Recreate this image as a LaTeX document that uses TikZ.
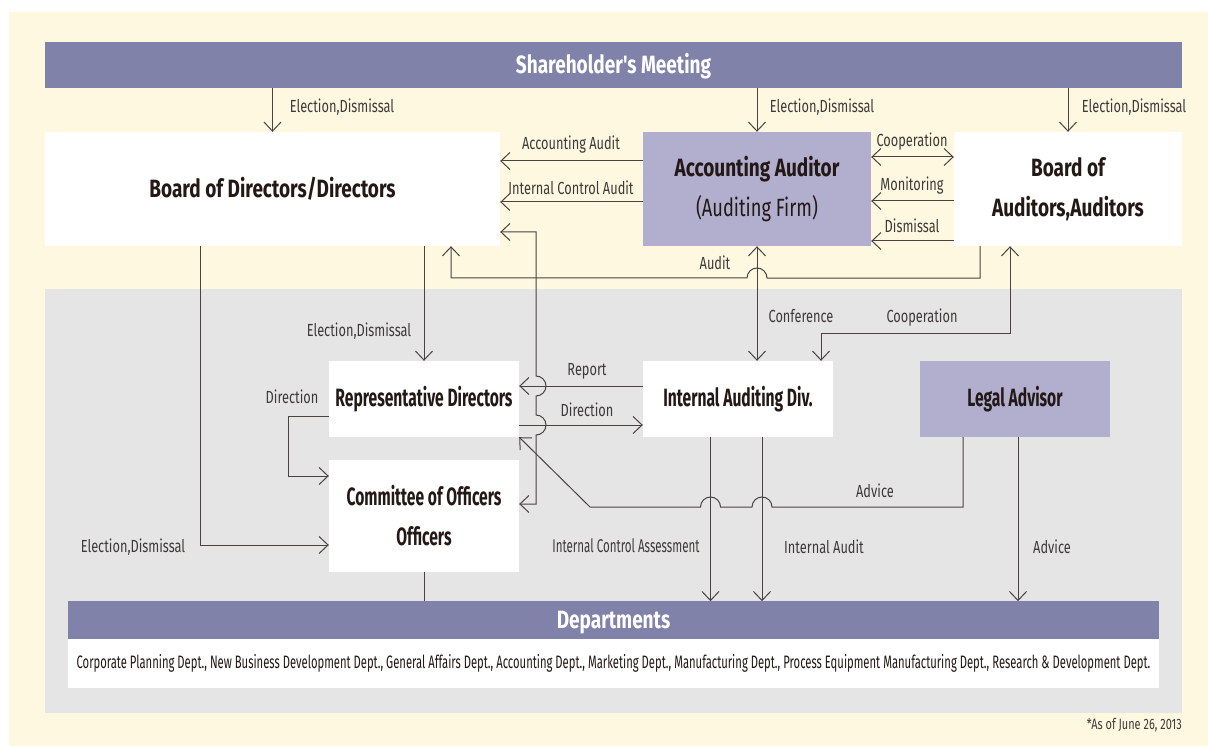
\documentclass[tikz,border=0pt]{standalone}
\usepackage{fontspec}
\setmainfont{Fira Sans}[Ligatures=TeXOff, FakeStretch=0.73, BoldFeatures={FakeStretch=0.76}]
\newfontfamily\condfont{Fira Sans}[FakeStretch=0.625]
\usetikzlibrary{positioning,arrows.meta}
\definecolor{creambg}{HTML}{FEF8E0}
\definecolor{greybg}{HTML}{E5E5E5}
\definecolor{barblue}{HTML}{8082A9}
\definecolor{lavender}{HTML}{B1AFCD}
\definecolor{linegrey}{HTML}{4A4241}
\definecolor{inkdark}{HTML}{231815}
\definecolor{labelgrey}{HTML}{3E3A39}
\tikzset{
  flowarrow/.style={->, draw=linegrey, line width=1pt},
  bothway/.style={<->, draw=linegrey, line width=1pt},
  plainline/.style={draw=linegrey, line width=1pt},
  topbar/.style={fill=barblue, text=white, inner sep=0pt, text height=17pt, text depth=0pt, font=\fontsize{25}{30}\selectfont\bfseries},
  entity/.style={fill=white, inner sep=0pt, align=center, text=inkdark, font=\fontsize{25}{40}\selectfont\bfseries},
  entity2/.style={entity, fill=lavender},
  lowbox/.style={entity, font=\condfont\fontsize{25}{40}\selectfont\bfseries},
  lowbox2/.style={lowbox, fill=lavender},
  relabel/.style={inner sep=0pt, text=labelgrey, font=\fontsize{17.5}{20}\selectfont}
}

\begin{document}
\begin{tikzpicture}[x=1pt, y=-1pt, >={Straight Barb[length=9pt,width=17pt]}]
  \useasboundingbox (0,0) rectangle (1208,746);
  % background bands
  \fill[creambg] (9,12) rectangle (1208,746);
  \fill[greybg] (45,289) rectangle (1182,713);

  % boxes
  \node[topbar, minimum width=1137pt, minimum height=46pt] (meeting) at (613.5,65) {Shareholder's Meeting};
  \node[entity, minimum width=455pt, minimum height=114pt] (board) at (272.5,189) {Board of Directors/Directors};
  \node[entity2, minimum width=228pt, minimum height=114pt] (acct) at (757,189) {Accounting Auditor\\\mdseries(Auditing Firm)};
  \node[entity, minimum width=228pt, minimum height=114pt] (auditors) at (1068,189) {Board of\\Auditors,Auditors};
  \node[lowbox, minimum width=190pt, minimum height=76pt] (repdir) at (424,399) {Representative Directors};
  \node[lowbox, minimum width=190pt, minimum height=112pt] (officers) at (424,516) {Committee of Officers\\Officers};
  \node[lowbox, minimum width=190pt, minimum height=76pt] (internal) at (738,399) {Internal Auditing Div.};
  \node[lowbox2, minimum width=190pt, minimum height=76pt] (legal) at (1015,399) {Legal Advisor};
  \node[topbar, minimum width=1091pt, minimum height=38pt] (depts) at (613.5,620) {Departments};
  \node[entity, minimum width=1091pt, minimum height=49pt, font=\condfont\fontsize{18}{20}\selectfont] (deptlist) at (613.5,663.5)
    {Corporate Planning Dept., New Business Development Dept., General Affairs Dept., Accounting Dept., Marketing Dept., Manufacturing Dept., Process Equipment Manufacturing Dept., Research \& Development Dept.};

  % from the meeting
  \draw[flowarrow] (board.north |- meeting.south) -- (board.north);
  \draw[flowarrow] (acct.north |- meeting.south) -- (acct.north);
  \draw[flowarrow] (auditors.north |- meeting.south) -- (auditors.north);
  \node[relabel] (elect1) at (342,107) {Election,Dismissal};
  \node[relabel] (elect2) at (822,107) {Election,Dismissal};
  \node[relabel] (elect3) at (1134,107) {Election,Dismissal};

  % auditor links
  \draw[flowarrow] ([yshift=28pt]acct.west) -- ([yshift=28pt]board.east);
  \draw[flowarrow] ([yshift=-13pt]acct.west) -- ([yshift=-13pt]board.east);
  \draw[bothway] ([yshift=32pt]acct.east) -- ([yshift=32pt]auditors.west);
  \draw[flowarrow] ([yshift=-12pt]auditors.west) -- ([yshift=-12pt]acct.east);
  \draw[flowarrow] ([yshift=-52pt]auditors.west) -- ([yshift=-52pt]acct.east);
  \node[relabel] (accaud) at (571,145) {Accounting Audit};
  \node[relabel] (ictrl) at (571,188) {Internal Control Audit};
  \node[relabel] (coop1) at (912,142) {Cooperation};
  \node[relabel] (monit) at (912,186) {Monitoring};
  \node[relabel] (dismis) at (912,226) {Dismissal};

  % audit line with hop
  \draw[flowarrow] ([xshift=-88pt]auditors.south) -- ++(0,32) -- (767,278)
    arc[start angle=0, end angle=180, radius=10pt] -| ([xshift=178.5pt]board.south);
  \node[relabel] (audit) at (715,263) {Audit};

  % conference and cooperation
  \draw[bothway] (acct.south) -- (acct.south |- internal.north);
  \draw[bothway] ([xshift=-58pt]auditors.south) -- ++(0,87) -| ([xshift=83pt]internal.north);
  \node[relabel] (confer) at (801,316) {Conference};
  \node[relabel] (coop2) at (922,318) {Cooperation};

  % directors
  \draw[flowarrow] (repdir.north |- board.south) -- (repdir.north);
  \node[relabel] (elect4) at (359,331) {Election,Dismissal};
  \draw[flowarrow] ([yshift=-17pt]repdir.west) -- ++(-40,0) |- ([yshift=40pt]officers.west);
  \node[relabel] (direct1) at (292,397) {Direction};
  \draw[flowarrow] ([xshift=-72.5pt]board.south) |- ([yshift=-29pt]officers.west);
  \node[relabel] (elect5) at (133,547) {Election,Dismissal};
  \draw[plainline] (officers.south) -- (officers.south |- depts.north);

  % rail from officers to board with hops
  \draw[bothway] ([yshift=12pt]officers.east) -| (536,435)
    arc[start angle=-90, end angle=90, radius=10pt] -- (536,396)
    arc[start angle=-90, end angle=90, radius=10pt] |- ([yshift=-43pt]board.east);

  % internal auditing
  \draw[flowarrow] ([yshift=13pt]internal.west) -- ([yshift=13pt]repdir.east);
  \draw[flowarrow] ([yshift=-26pt]repdir.east) -- ([yshift=-26pt]internal.west);
  \node[relabel] (report) at (587,371) {Report};
  \node[relabel] (direct2) at (587,410) {Direction};
  \draw[flowarrow] ([xshift=-27.5pt]internal.south) -- ++(0,164);
  \draw[flowarrow] ([xshift=24pt]internal.south) -- ++(0,164);
  \node[relabel, font=\condfont\fontsize{18.5}{20}\selectfont] (icassess) at (626,546) {Internal Control Assessment};
  \node[relabel] (intaud) at (824,547) {Internal Audit};

  % legal advice
  \draw[flowarrow] ([xshift=-52pt]legal.south) -- ++(0,70) -- (772,507)
    arc[start angle=0, end angle=180, radius=10pt] -- (720.5,507)
    arc[start angle=0, end angle=180, radius=10pt] -- (590,507) -- (repdir.south east);
  \node[relabel] (advice1) at (875,491) {Advice};
  \draw[flowarrow] ([xshift=3pt]legal.south) -- ++(0,164);
  \node[relabel] (advice2) at (1052,547) {Advice};

  \node[relabel, anchor=east, font=\fontsize{15}{18}\selectfont] (asof) at (1182,725) {*As of June 26, 2013};
\end{tikzpicture}
\end{document}
